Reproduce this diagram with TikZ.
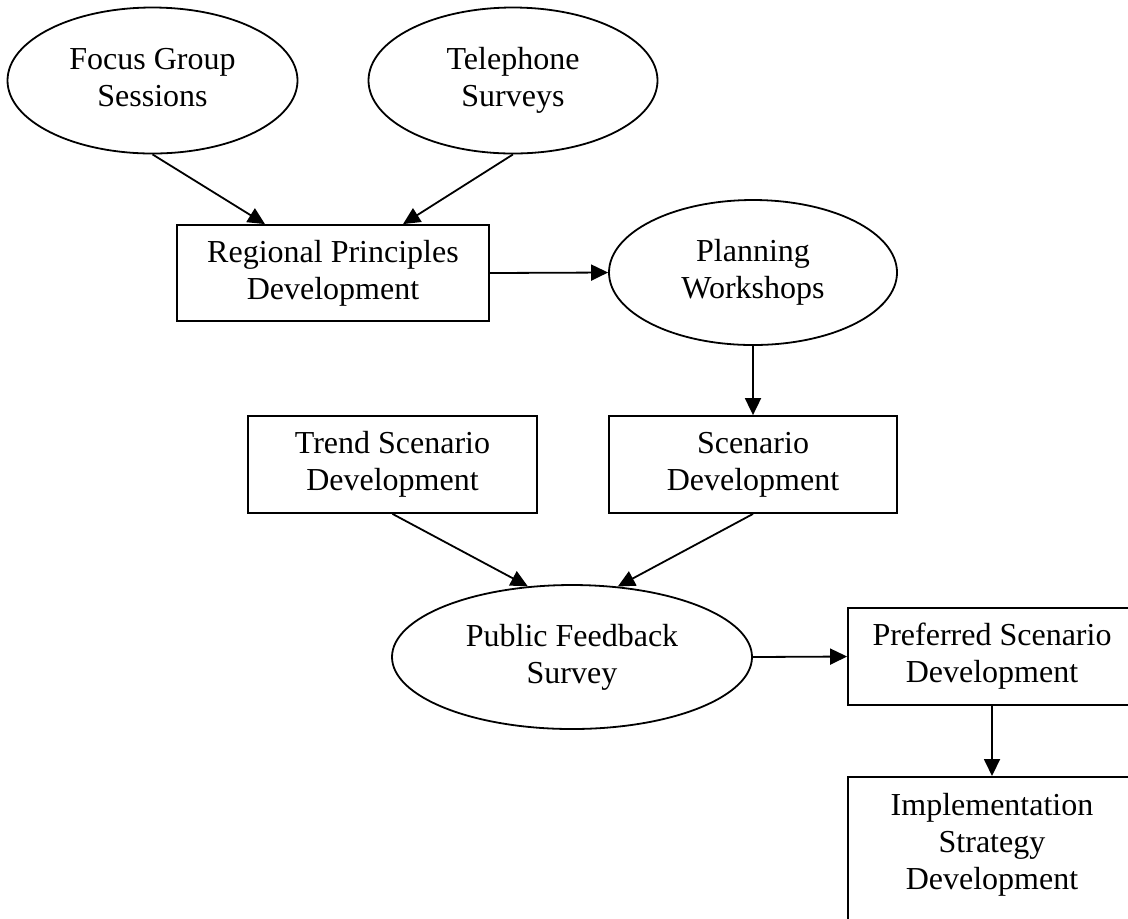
\documentclass[tikz,border=0pt]{standalone}
\usepackage{fontspec}
\setmainfont{Liberation Serif}
\usepackage{tikz}
\usetikzlibrary{arrows.meta}
\usetikzlibrary{shapes,positioning}
\tikzset{>={Triangle[length=8.5pt,width=8pt]},
  oval/.style={draw,ellipse,inner sep=0pt,align=center,
    text height=29.5pt,text depth=3.5pt,
    font=\fontsize{16}{18.5}\selectfont},
  box/.style={draw,rectangle,inner sep=0pt,align=center,
    text height=29.5pt,text depth=3.5pt,
    font=\fontsize{16}{18.5}\selectfont}}

\begin{document}
\begin{tikzpicture}[x=0.5pt,y=-0.5pt,line width=0.9pt]

  \clip (0,0) rectangle (1128,918);

  \draw (152.5,80.5) node [oval,minimum width=145pt,minimum height=73pt] (focus) {Focus Group\\Sessions};
  \draw (513,80.5) node [oval,minimum width=144.5pt,minimum height=73pt] (phone) {Telephone\\Surveys};

  \draw (333,273) node [box,minimum width=156pt,minimum height=48pt] (principles) {Regional Principles\\Development};
  \draw (753,272.5) node [oval,minimum width=144pt,minimum height=72.5pt] (workshops) {Planning\\Workshops};

  \draw (392.5,464.5) node [box,minimum width=144.5pt,minimum height=48.5pt] (trend) {Trend Scenario\\Development};
  \draw (753,464.5) node [box,minimum width=144pt,minimum height=48.5pt] (scenario) {Scenario\\Development};

  \draw (572,657) node [oval,minimum width=180pt,minimum height=72pt] (feedback) {Public Feedback\\Survey};
  \draw (992,656.5) node [box,minimum width=144pt,minimum height=48.5pt] (preferred) {Preferred Scenario\\Development};

  % text sits at the top, the box runs off the page
  \draw (992,776) node [box,anchor=north,minimum width=144pt,text height=56.5pt,text depth=30pt] (strategy) {Implementation\\Strategy\\Development};


  \draw [->] (focus.south) -- ([xshift=-34pt]principles.north);
  \draw [->] (phone.south) -- ([xshift=35pt]principles.north);
  \draw [->] (principles.east) -- (workshops.west);
  \draw [->] (workshops.south) -- (scenario.north);

  \draw [->] (trend.south) -- (feedback.122);
  \draw [->] (scenario.south) -- (feedback.57);
  \draw [->] (feedback.east) -- (preferred.west);
  \draw [->] (preferred.south) -- (strategy.north);

\end{tikzpicture}
\end{document}
